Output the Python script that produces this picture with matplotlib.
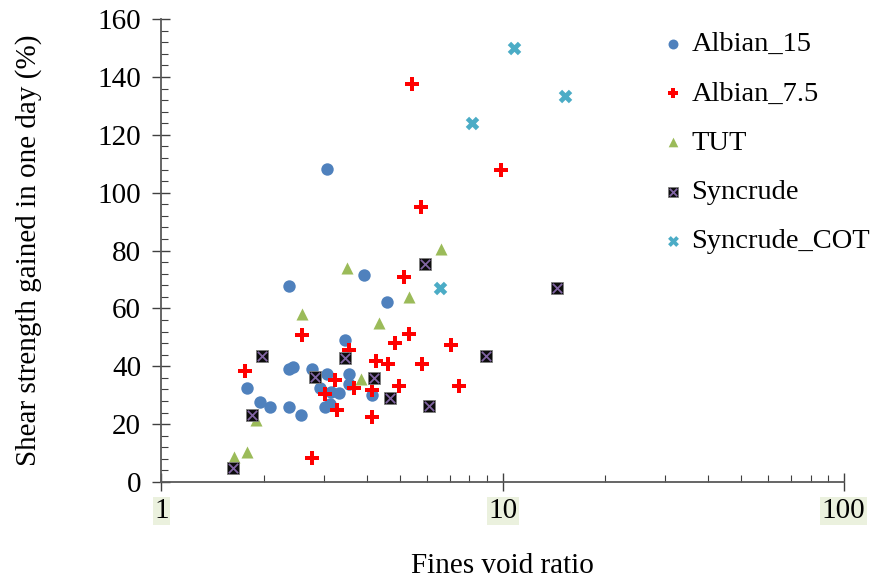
import matplotlib
matplotlib.use("Agg")
import matplotlib.pyplot as plt
from matplotlib.ticker import FixedLocator, NullFormatter, MultipleLocator
from matplotlib.legend_handler import HandlerTuple

plt.rcParams['font.family'] = ['Liberation Serif', 'DejaVu Serif']

# Fines void ratio (x) and shear strength gained in one day, % (y)
albian15_x = [3.05, 2.36, 3.93, 4.60, 3.45, 2.36, 2.43, 2.76, 3.05, 3.55, 1.78, 2.91,
              3.55, 3.14, 3.32, 1.94, 2.08, 2.37, 2.56, 3.01, 3.12, 4.14]
albian15_y = [108.1, 67.6, 71.5, 62.1, 49.0, 39.2, 39.7, 38.9, 37.5, 37.5, 32.6, 32.5,
              34.0, 31.1, 30.8, 27.7, 25.9, 25.9, 23.3, 25.9, 27.1, 30.2]

albian75_x = [5.42, 9.91, 5.75, 5.15, 5.32, 2.58, 4.84, 7.07, 3.55, 4.25, 4.63, 5.80,
              1.76, 3.23, 4.98, 7.46, 3.67, 4.14, 3.02, 3.28, 4.14, 2.76]
albian75_y = [137.5, 107.8, 95.0, 70.7, 51.3, 50.7, 48.2, 47.2, 45.5, 41.8, 40.9, 40.9,
              38.4, 35.2, 33.1, 33.1, 32.6, 31.7, 30.6, 24.8, 22.5, 8.3]

tut_x = [6.61, 3.49, 5.32, 2.58, 4.33, 3.84, 1.89, 1.78, 1.63]
tut_y = [80.5, 74.1, 64.0, 58.0, 55.1, 35.5, 21.6, 10.4, 8.6]

syn_x = [5.91, 14.4, 1.97, 8.93, 3.45, 2.82, 4.20, 4.68, 6.07, 1.84, 1.62]
syn_y = [75.5, 67.1, 43.6, 43.6, 42.7, 36.3, 36.0, 29.0, 26.3, 23.3, 5.0]

cot_x = [10.8, 15.2, 8.13, 6.56]
cot_y = [149.9, 133.5, 124.1, 67.1]

fig = plt.figure(figsize=(8.77, 5.78), dpi=100)
ax = fig.add_axes([0.184, 0.166, 0.778, 0.801])

h1 = ax.scatter(albian15_x, albian15_y, marker='o', s=80, color='#4F81BD', lw=0, zorder=3)
h2 = ax.scatter(albian75_x, albian75_y, marker='P', s=95, color='#FF0000', lw=0, zorder=3)
h3 = ax.scatter(tut_x, tut_y, marker='^', s=75, color='#9BBB59', lw=0, zorder=3)
h4a = ax.scatter(syn_x, syn_y, marker='s', s=75, color='#0D0D0D', edgecolor='#7F7F7F',
                 lw=0.6, zorder=3)
h4b = ax.scatter(syn_x, syn_y, marker='x', s=45, color='#8064A2', lw=1.3, zorder=4)
h5 = ax.scatter(cot_x, cot_y, marker='X', s=95, color='#4BACC6', lw=0, zorder=3)

ax.set_xscale('log')
ax.set_xlim(1, 100)
ax.set_ylim(0, 160)
ax.yaxis.set_major_locator(MultipleLocator(20))
ax.yaxis.set_minor_locator(MultipleLocator(4))
ax.xaxis.set_minor_locator(FixedLocator([k * 10 ** d for d in range(0, 2) for k in range(2, 10)]))
ax.xaxis.set_minor_formatter(NullFormatter())
ax.set_xticks([1, 10, 100])
ax.set_xticklabels(['1', '10', '100'])

for s in ['top', 'right']:
    ax.spines[s].set_visible(False)
for s in ['left', 'bottom']:
    ax.spines[s].set_color('#595959')
    ax.spines[s].set_linewidth(1.3)

ax.tick_params(which='major', direction='inout', length=13, width=1, color='#404040',
               labelsize=21, pad=8)
ax.tick_params(which='minor', direction='in', length=5, width=0.8, color='#404040')
ax.tick_params(axis='x', which='major', pad=5)

for lab in ax.get_xticklabels():
    lab.set_bbox(dict(facecolor='#EBF1DE', edgecolor='none', pad=1))

ax.set_xlabel('Fines void ratio', fontsize=21, labelpad=21)
ax.set_ylabel('Shear strength gained in one day (%)', fontsize=21, labelpad=40)

fig.legend([h1, h2, h3, (h4a, h4b), h5],
           ['Albian_15', 'Albian_7.5', 'TUT', 'Syncrude', 'Syncrude_COT'],
           handler_map={tuple: HandlerTuple(ndivide=1, pad=0)},
           loc='upper left', bbox_to_anchor=(0.722, 0.99), frameon=False,
           fontsize=20.5, labelspacing=0.82, handletextpad=0.15, handlelength=1.0,
           markerscale=0.8)

fig.savefig('out.png', dpi=100)
